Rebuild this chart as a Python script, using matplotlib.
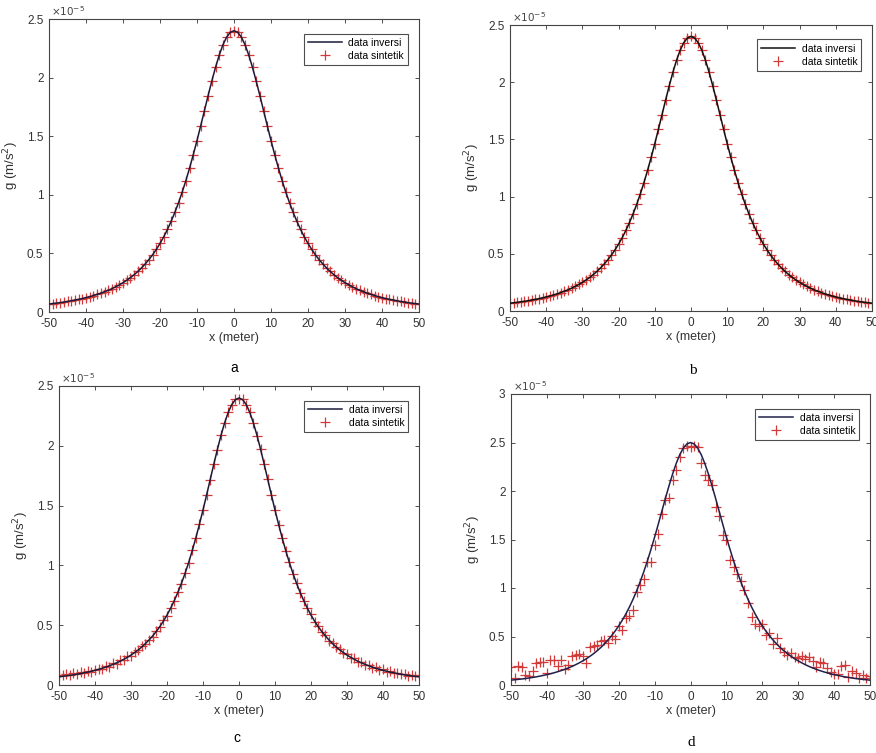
import matplotlib
matplotlib.use("Agg")
import matplotlib.pyplot as plt

plt.rcParams['font.family'] = ['Liberation Sans', 'DejaVu Sans']

# x positions (meter)
x = list(range(-50, 51))

# values in units of 1e-5 m/s^2
curve_abc = [0.068, 0.072, 0.076, 0.080, 0.085, 0.090, 0.096, 0.102, 0.108, 0.115,
             0.123, 0.131, 0.140, 0.150, 0.161, 0.173, 0.185, 0.199, 0.215, 0.232,
             0.250, 0.271, 0.293, 0.318, 0.346, 0.376, 0.410, 0.447, 0.488, 0.534,
             0.585, 0.641, 0.704, 0.773, 0.849, 0.932, 1.023, 1.122, 1.229, 1.343,
             1.463, 1.589, 1.717, 1.846, 1.970, 2.087, 2.191, 2.279, 2.345, 2.386,
             2.400,
             2.386, 2.345, 2.279, 2.191, 2.087, 1.970, 1.846, 1.717, 1.589, 1.463,
             1.343, 1.229, 1.122, 1.023, 0.932, 0.849, 0.773, 0.704, 0.641, 0.585,
             0.534, 0.488, 0.447, 0.410, 0.376, 0.346, 0.318, 0.293, 0.271, 0.250,
             0.232, 0.215, 0.199, 0.185, 0.173, 0.161, 0.150, 0.140, 0.131, 0.123,
             0.115, 0.108, 0.102, 0.096, 0.090, 0.085, 0.080, 0.076, 0.072, 0.068]

synth_ab = [0.068, 0.072, 0.076, 0.080, 0.085, 0.090, 0.096, 0.102, 0.108, 0.115,
            0.123, 0.131, 0.140, 0.150, 0.161, 0.173, 0.185, 0.199, 0.215, 0.232,
            0.250, 0.271, 0.293, 0.318, 0.346, 0.376, 0.410, 0.447, 0.488, 0.534,
            0.585, 0.641, 0.704, 0.773, 0.849, 0.932, 1.023, 1.122, 1.229, 1.343,
            1.463, 1.589, 1.717, 1.846, 1.970, 2.087, 2.191, 2.279, 2.345, 2.386,
            2.400,
            2.386, 2.345, 2.279, 2.191, 2.087, 1.970, 1.846, 1.717, 1.589, 1.463,
            1.343, 1.229, 1.122, 1.023, 0.932, 0.849, 0.773, 0.704, 0.641, 0.585,
            0.534, 0.488, 0.447, 0.410, 0.376, 0.346, 0.318, 0.293, 0.271, 0.250,
            0.232, 0.215, 0.199, 0.185, 0.173, 0.161, 0.150, 0.140, 0.131, 0.123,
            0.115, 0.108, 0.102, 0.096, 0.090, 0.085, 0.080, 0.076, 0.072, 0.068]

synth_c = [0.085, 0.082, 0.090, 0.086, 0.098, 0.095, 0.108, 0.100, 0.118, 0.112,
           0.128, 0.136, 0.132, 0.155, 0.150, 0.180, 0.175, 0.205, 0.210, 0.240,
           0.245, 0.280, 0.290, 0.325, 0.345, 0.380, 0.405, 0.450, 0.485, 0.540,
           0.580, 0.645, 0.700, 0.775, 0.845, 0.935, 1.020, 1.125, 1.225, 1.345,
           1.460, 1.590, 1.715, 1.850, 1.965, 2.090, 2.190, 2.280, 2.340, 2.390,
           2.395,
           2.390, 2.340, 2.280, 2.190, 2.085, 1.975, 1.845, 1.720, 1.585, 1.465,
           1.340, 1.230, 1.120, 1.025, 0.930, 0.850, 0.770, 0.705, 0.640, 0.590,
           0.530, 0.490, 0.445, 0.415, 0.372, 0.350, 0.315, 0.298, 0.265, 0.258,
           0.228, 0.222, 0.195, 0.190, 0.168, 0.168, 0.145, 0.150, 0.125, 0.130,
           0.110, 0.118, 0.098, 0.102, 0.088, 0.092, 0.078, 0.085, 0.072, 0.080]

curve_d = [0.050, 0.054, 0.058, 0.062, 0.067, 0.072, 0.078, 0.084, 0.091, 0.099,
           0.107, 0.116, 0.126, 0.137, 0.149, 0.162, 0.176, 0.192, 0.209, 0.228,
           0.249, 0.271, 0.296, 0.323, 0.353, 0.386, 0.423, 0.463, 0.507, 0.556,
           0.609, 0.668, 0.733, 0.805, 0.884, 0.971, 1.066, 1.169, 1.280, 1.399,
           1.524, 1.655, 1.789, 1.923, 2.052, 2.174, 2.282, 2.374, 2.443, 2.485,
           2.500,
           2.485, 2.443, 2.374, 2.282, 2.174, 2.052, 1.923, 1.789, 1.655, 1.524,
           1.399, 1.280, 1.169, 1.066, 0.971, 0.884, 0.805, 0.733, 0.668, 0.609,
           0.556, 0.507, 0.463, 0.423, 0.386, 0.353, 0.323, 0.296, 0.271, 0.249,
           0.228, 0.209, 0.192, 0.176, 0.162, 0.149, 0.137, 0.126, 0.116, 0.107,
           0.099, 0.091, 0.084, 0.078, 0.072, 0.067, 0.062, 0.058, 0.054, 0.050]

synth_d = [0.19, 0.07, 0.20, 0.19, 0.10, 0.09, 0.14, 0.23, 0.24, 0.24,
           0.12, 0.26, 0.26, 0.20, 0.26, 0.16, 0.21, 0.30, 0.31, 0.32,
           0.30, 0.23, 0.39, 0.40, 0.41, 0.45, 0.46, 0.43, 0.51, 0.47,
           0.61, 0.57, 0.69, 0.71, 0.77, 0.96, 1.03, 1.09, 1.27, 1.27,
           1.44, 1.56, 1.76, 1.91, 1.93, 2.11, 2.22, 2.35, 2.44, 2.46,
           2.45,
           2.46, 2.45, 2.29, 2.17, 2.11, 2.06, 1.84, 1.74, 1.55, 1.50,
           1.29, 1.22, 1.14, 1.07, 0.98, 0.85, 0.70, 0.63, 0.61, 0.63,
           0.52, 0.54, 0.42, 0.48, 0.38, 0.34, 0.31, 0.33, 0.29, 0.28,
           0.30, 0.27, 0.29, 0.25, 0.19, 0.24, 0.23, 0.18, 0.13, 0.11,
           0.11, 0.20, 0.21, 0.08, 0.14, 0.12, 0.07, 0.10, 0.07, 0.09]

xticks = [-50, -40, -30, -20, -10, 0, 10, 20, 30, 40, 50]
yticks_abc = [0, 0.5, 1, 1.5, 2, 2.5]
yticks_d = [0, 0.5, 1, 1.5, 2, 2.5, 3]
ytick_labels_abc = ['0', '0.5', '1', '1.5', '2', '2.5']
ytick_labels_d = ['0', '0.5', '1', '1.5', '2', '2.5', '3']

W, H = 876, 753
fig = plt.figure(figsize=(W / 100, H / 100), dpi=100)


def box(l, t, r, b):
    return [l / W, 1 - b / H, (r - l) / W, (b - t) / H]


panels = [
    (box(49, 19, 419, 312), curve_abc, synth_ab, 2.5, yticks_abc, ytick_labels_abc, '#1a1a38'),
    (box(510, 25, 872, 311), curve_abc, synth_ab, 2.5, yticks_abc, ytick_labels_abc, '#111111'),
    (box(59, 386, 419, 685), curve_abc, synth_c, 2.5, yticks_abc, ytick_labels_abc, '#1a1a38'),
    (box(511, 394, 870, 685), curve_d, synth_d, 3.0, yticks_d, ytick_labels_d, '#20204a'),
]

tick_col = '#333333'
for rect, cur, syn, ymax, yt, ytl, lc in panels:
    ax = fig.add_axes(rect)
    ax.plot(x, syn, linestyle='none', marker='+', color='#d23a3a',
            markersize=7, markeredgewidth=0.9, label='data sintetik', zorder=2)
    ax.plot(x, cur, color=lc, linewidth=1.1, label='data inversi', zorder=3)
    ax.set_xlim(-50, 50)
    ax.set_ylim(0, ymax)
    ax.set_xticks(xticks)
    ax.set_xticklabels([str(v) for v in xticks])
    ax.set_yticks(yt)
    ax.set_yticklabels(ytl)
    ax.tick_params(direction='in', length=3, width=0.6, top=True, right=True,
                   labelsize=8.5, colors=tick_col, pad=4)
    for s in ax.spines.values():
        s.set_color('#444444')
        s.set_linewidth(0.8)
    ax.set_xlabel('x (meter)', fontsize=9, color='#333333', labelpad=2)
    ax.set_ylabel('g (m/s$^2$)', fontsize=9.5, color='#333333', labelpad=4)
    ax.text(0.005, 1.004, r'$\times10^{-5}$', transform=ax.transAxes,
            fontsize=7.5, color='#444444', ha='left', va='bottom')
    h, lab = ax.get_legend_handles_labels()
    leg = ax.legend([h[1], h[0]], [lab[1], lab[0]], loc='upper right',
                    fontsize=7.5, frameon=True, fancybox=False,
                    edgecolor='#222222', handlelength=3.3, borderpad=0.4,
                    labelspacing=0.3, handletextpad=0.6,
                    bbox_to_anchor=(0.985, 0.968))
    leg.get_frame().set_linewidth(0.8)

fig.text(234 / W, 1 - 368 / H, 'a', ha='center', va='center', fontsize=10,
         family=['Liberation Sans', 'DejaVu Sans'])
fig.text(693 / W, 1 - 370 / H, 'b', ha='center', va='center', fontsize=11,
         family=['Liberation Serif', 'DejaVu Serif'])
fig.text(237 / W, 1 - 738 / H, 'c', ha='center', va='center', fontsize=10,
         family=['Liberation Sans', 'DejaVu Sans'])
fig.text(691 / W, 1 - 742 / H, 'd', ha='center', va='center', fontsize=11,
         family=['Liberation Serif', 'DejaVu Serif'])

fig.savefig('out.png', dpi=100)
